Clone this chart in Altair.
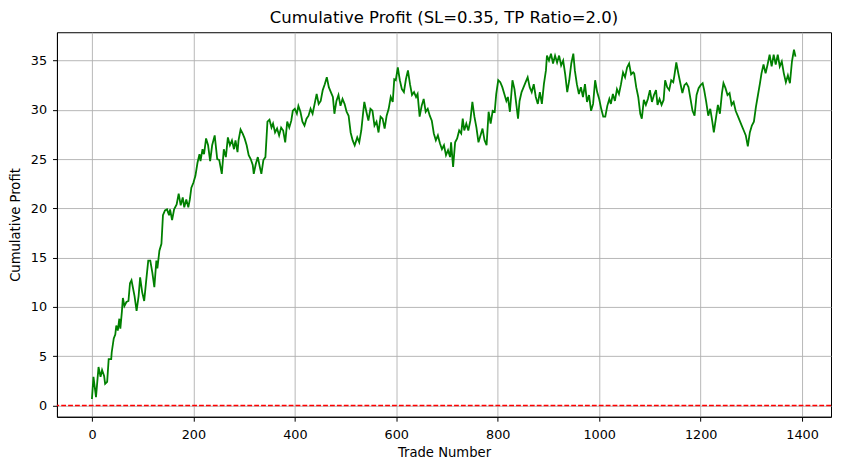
import altair as alt
import pandas as pd

# Trade number / cumulative profit
t_a = [0,3,8,13,17,20,24,26,30,33,38,39,43,46,48,51,54,56,59,61,64,68,72,75,78,84,88,92,95,99,
       103,107,111,115,119,123,127,129,133,137,140,144,148,152,154,158,162,167,171,175,179,182,186,190,193,196,
       200,204,208,212,214,218,221,225,229,233,237]
v_a = [0.65,2.9,0.85,3.9,2.9,3.6,3.0,2.2,2.4,4.7,4.7,5.4,6.8,7.2,8.1,7.6,8.8,7.8,9.5,10.9,
       10.1,10.5,10.6,12.4,12.7,11.1,9.6,11.1,13.0,11.5,10.6,12.7,14.7,14.7,13.5,12.0,14.7,13.9,15.7,16.4,
       19.3,19.8,19.9,19.3,19.9,18.8,19.9,20.4,21.5,20.3,21.1,20.1,20.9,20.1,20.9,22.1,22.6,23.3,24.6,25.5,
       24.8,26.0,25.5,27.1,26.4,24.8,26.4]

t_b = [242,247,251,256,260,264,268,272,276,280,283,287,289,293,297,301,305,309,313,317,319,323,327,331,334,
       338,342,346,350,354,357,361,365,369,373,377,381,385,389,393,396,400,404,407,411,415,419,423,427,431,
       435,439,443,447,451,455,459,463,467,471,475,478,482,486,490,494,498,502,506,510,514]
v_b = [27.4,25.0,24.9,23.5,26.0,25.2,27.2,26.4,26.9,26.0,26.9,25.7,26.9,28.0,27.6,27.1,26.4,25.4,25.0,24.4,
       23.5,24.5,25.2,24.2,23.5,24.9,25.2,28.8,29.0,28.2,28.6,27.7,28.1,27.4,28.2,27.9,26.7,28.8,28.2,28.9,
       29.9,30.1,29.6,30.4,29.8,28.8,28.4,29.1,29.4,30.1,29.6,30.6,31.6,30.6,30.9,32.0,32.6,33.3,32.3,31.8,
       31.3,29.6,30.9,31.5,30.4,31.1,30.6,29.8,29.4,27.7,26.9]

t_c = [518,523,527,531,535,537,541,545,549,553,557,561,565,569,573,577,581,585,589,593,596,599,603,607,611,
       615,619,623,627,631,635,639,642,646,650,654,658,662,666,670,674,678,682,686,690,694,698,702,706,708,
       712,716,720,724,728,731,734,738,742,746,750,754,758,762,766,770,774,778,782,786,790]
v_c = [26.4,27.2,26.7,27.9,29.9,30.8,29.8,28.9,30.1,29.9,28.4,28.8,27.7,29.3,29.1,28.1,29.4,30.1,31.3,30.8,
       33.1,33.0,34.3,33.0,32.1,31.8,33.1,34.0,32.6,31.5,31.8,31.3,31.6,29.3,30.4,31.1,29.8,30.1,29.4,28.9,
       27.6,26.9,27.4,26.6,26.0,26.4,25.4,25.9,25.2,26.7,24.2,26.7,27.1,27.9,27.6,29.1,27.9,28.6,27.9,28.9,
       30.8,29.3,28.2,26.7,27.4,28.1,26.9,26.4,29.8,28.6,29.9]

t_d = [794,797,801,805,809,813,817,820,824,829,833,837,840,843,847,851,855,859,863,867,871,875,879,883,887,
       891,895,897,901,905,909,913,917,921,925,929,933,937,941,945,949,952,956,960,964,968,972,976,980,984,
       988,992,996,1000,1004,1008,1012,1016,1020,1023,1027,1031,1035,1039,1043,1047,1051,1055,1059,1063,1067]
v_d = [29.8,31.6,33.0,32.8,32.3,31.6,30.9,31.3,29.8,33.0,32.1,30.4,29.1,30.9,31.8,32.3,32.8,33.3,32.3,31.8,
       32.6,31.3,30.6,31.8,30.6,32.6,34.0,35.5,35.0,35.7,34.7,35.5,34.8,35.5,34.5,35.0,33.6,31.8,33.0,34.7,
       35.7,34.0,32.6,31.6,32.3,31.3,32.6,30.8,31.5,29.9,30.6,33.0,31.8,31.1,30.1,29.3,29.3,30.4,31.1,30.6,
       31.6,30.9,32.1,31.6,32.6,33.8,33.3,34.3,34.7,33.6,33.8]

t_e = [1069,1073,1077,1081,1084,1088,1092,1096,1100,1104,1108,1112,1115,1119,1123,1127,1130,1134,1138,1142,
       1146,1148,1152,1156,1160,1164,1168,1172,1176,1180,1184,1188,1192,1196,1200,1204,1207,1211,1215,1219,
       1223,1226,1230,1234,1238,1242,1245,1249,1253,1257,1261,1265,1269,1273,1277,1281,1285,1289,1293,1297,
       1301,1305,1309,1313,1317,1320,1324,1328,1332,1336,1340,1344,1348,1352,1356,1360,1364,1368,1372,1376,
       1380,1384,1387]
v_e = [33.7,32.3,31.3,29.6,29.1,31.0,30.5,31.1,32.0,30.8,31.5,32.0,30.5,31.1,30.5,31.0,33.0,32.3,32.0,33.0,
       32.8,33.4,34.8,33.7,32.7,31.7,32.5,32.7,32.3,31.1,29.9,29.4,31.5,32.2,32.5,32.7,32.0,30.8,29.4,30.1,
       28.8,27.7,29.1,30.5,29.6,31.7,32.7,32.2,31.5,31.7,30.5,30.8,29.9,29.4,28.9,28.4,27.9,27.4,26.3,27.7,
       28.4,28.8,30.3,31.5,32.7,33.7,34.6,33.7,34.6,35.6,34.4,35.6,34.6,35.6,34.4,34.9,33.7,32.8,33.5,32.7,
       34.9,36.1,35.4]

x_ticks = [0, 200, 400, 600, 800, 1000, 1200, 1400]
y_ticks = [0, 5, 10, 15, 20, 25, 30, 35]
baseline = [0]

trades = t_a + t_b + t_c + t_d + t_e
profit = v_a + v_b + v_c + v_d + v_e
assert len(trades) == len(profit), (len(trades), len(profit))

df = pd.DataFrame({"trade": trades, "profit": profit})
df_zero = pd.DataFrame({"y": baseline})

FONT = "DejaVu Sans"

x_enc = alt.X("trade:Q",
              scale=alt.Scale(domain=[-69, 1457], nice=False, zero=False),
              axis=alt.Axis(values=x_ticks, title="Trade Number", format="d"))
y_enc = alt.Y("profit:Q",
              scale=alt.Scale(domain=[-1.15, 37.87], nice=False, zero=False),
              axis=alt.Axis(values=y_ticks, title="Cumulative Profit", format="d"))

line = alt.Chart(df).mark_line(color="#008000", strokeWidth=1.8, clip=True).encode(
    x=x_enc, y=y_enc, order="trade:Q")

zero = alt.Chart(df_zero).mark_rule(color="#ff0000", opacity=1, strokeWidth=1.4,
                                    strokeDash=[4.8, 2.1]).encode(y=alt.Y("y:Q"))

chart = alt.layer(line, zero).properties(
    width=775, height=385,
    title="Cumulative Profit (SL=0.35, TP Ratio=2.0)",
    autosize="none",
    padding={"left": 49, "top": 24, "right": 2, "bottom": 45},
).configure(
    background="white"
).configure_view(
    stroke="black", strokeWidth=1
).configure_axis(
    grid=True, gridColor="#b0b0b0", gridWidth=0.9, gridOpacity=1,
    domainColor="black", domainWidth=1,
    tickColor="black", tickSize=4.4, tickWidth=1,
    labelFont=FONT, labelFontSize=12.8, labelColor="black",
    titleFont=FONT, titleFontSize=13.2, titleFontWeight="normal", titleColor="black",
).configure_axisX(
    labelPadding=7, titlePadding=6
).configure_axisY(
    labelPadding=6, titlePadding=8
).configure_title(
    font=FONT, fontSize=16.5, fontWeight="normal", color="black", anchor="middle", offset=5.5
)

chart.save("out.html", embed_options={"renderer": "svg", "actions": False})
